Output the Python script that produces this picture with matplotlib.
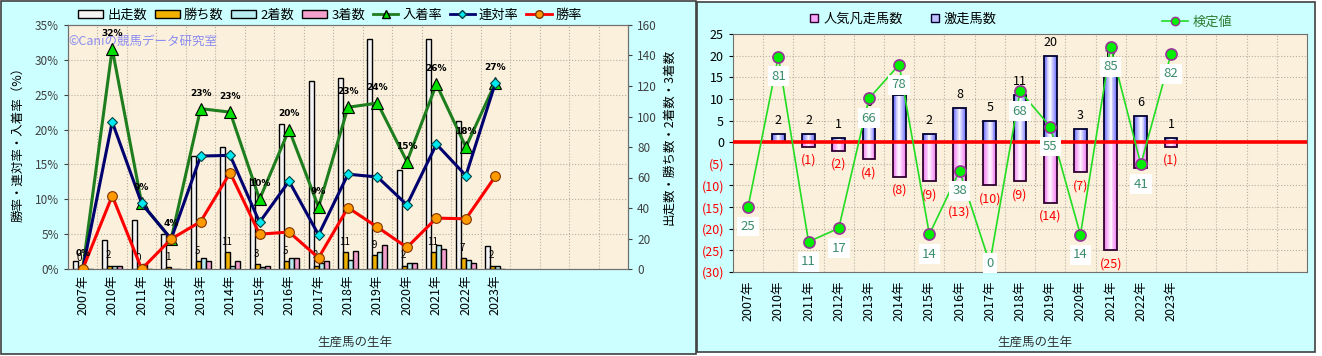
import matplotlib.pyplot as plt
import numpy as np
from matplotlib.patches import Rectangle, Patch
from matplotlib.lines import Line2D
import matplotlib.colors as mcolors

plt.rcParams['font.family'] = ['Noto Sans CJK JP', 'DejaVu Sans']

years = ['2007年', '2010年', '2011年', '2012年', '2013年', '2014年', '2015年', '2016年',
         '2017年', '2018年', '2019年', '2020年', '2021年', '2022年', '2023年']

# left chart: counts
runs = [5, 19, 32, 23, 74, 80, 60, 95, 123, 125, 151, 65, 151, 97, 15]
wins = [0, 2, 0, 1, 5, 11, 3, 5, 2, 11, 9, 2, 11, 7, 2]
seconds = [0, 2, 3, 0, 7, 2, 1, 7, 4, 6, 11, 4, 16, 6, 2]
thirds = [0, 2, 0, 0, 5, 5, 2, 7, 5, 12, 16, 4, 13, 4, 0]
# left chart: rates (%)
place_rate = [0, 31.6, 9.4, 4.3, 23.0, 22.5, 10.0, 20.0, 8.9, 23.2, 23.8, 15.4, 26.5, 17.5, 26.7]
quinella_rate = [0, 21.1, 9.4, 4.3, 16.2, 16.3, 6.7, 12.6, 4.9, 13.6, 13.2, 9.2, 17.9, 13.4, 26.7]
win_rate = [0, 10.5, 0, 4.3, 6.8, 13.8, 5.0, 5.3, 1.6, 8.8, 6.0, 3.1, 7.3, 7.2, 13.3]
place_labels = ['0%', '32%', '9%', '4%', '23%', '23%', '10%', '20%', '9%', '23%',
                '24%', '15%', '26%', '18%', '27%']

# right chart
gekiso = [0, 2, 2, 1, 6, 11, 2, 8, 5, 11, 20, 3, 17, 6, 1]
bonso = [0, 0, 1, 2, 4, 8, 9, 13, 10, 9, 14, 7, 25, 6, 1]
kentei_y = [-14.9, 19.8, -23.0, -19.9, 10.1, 17.9, -21.3, -6.6, -28.0, 11.8, 3.6, -21.4, 22.0, -5.1, 20.4]
kentei_lab = [25, 81, 11, 17, 66, 78, 14, 38, 0, 68, 55, 14, 85, 41, 82]

W, H = 1322, 356
n_slots = 19
x = np.arange(len(years))


def box(x0, y0, x1, y1):
    return [x0 / W, 1 - y1 / H, (x1 - x0) / W, (y1 - y0) / H]


def mix(c1, c2, t):
    a = np.array(mcolors.to_rgb(c1))
    b = np.array(mcolors.to_rgb(c2))
    return tuple(a + (b - a) * t)


def grad_bar(ax, xi, h, w, dark, light, edge):
    steps = 7
    for k in range(steps):
        ax.bar(xi, h, w * (1 - k / steps), color=mix(dark, light, k / (steps - 1)), lw=0, zorder=2)
    ax.bar(xi, h, w, fill=False, edgecolor=edge, lw=1.3, zorder=3)


fig = plt.figure(figsize=(W / 100, H / 100), dpi=100)
fig.patch.set_facecolor('white')
fig.add_artist(Rectangle((1 / W, 1 - 354 / H), 695 / W, 353 / H, transform=fig.transFigure,
                         facecolor='#CCFFFF', edgecolor='#404040', lw=1.2, zorder=0))
fig.add_artist(Rectangle((697 / W, 1 - 352 / H), 618 / W, 350 / H, transform=fig.transFigure,
                         facecolor='#CCFFFF', edgecolor='#404040', lw=1.2, zorder=0))

bg = '#FAF0DC'
gridc = '#B8B0A0'
tickc = '#404040'

# ---------------- left chart ----------------
ax = fig.add_axes(box(68, 25, 628, 269))
ax.set_facecolor(bg)
ax2 = ax.twinx()

bw = 0.17
ax.bar(x - 0.255, runs, bw, color='#F4F4F4', edgecolor='black', lw=1, zorder=2)
ax.bar(x - 0.085, wins, bw, color='#F0B000', edgecolor='black', lw=1, zorder=2)
ax.bar(x + 0.085, seconds, bw, color='#B8ECF0', edgecolor='black', lw=1, zorder=2)
ax.bar(x + 0.255, thirds, bw, color='#F4A0CC', edgecolor='black', lw=1, zorder=2)
for i in range(len(years)):
    ax.annotate(str(wins[i]), (x[i] - 0.12, wins[i]), xytext=(0, 4), textcoords='offset points',
                ha='center', va='bottom', fontsize=7, zorder=4)

ax.set_xlim(-0.5, n_slots - 0.5)
ax.set_ylim(0, 160)
ax.yaxis.tick_right()
ax.set_yticks(range(0, 161, 20))
for b in np.arange(0.5, n_slots - 0.5, 1):
    ax.axvline(b, color=gridc, lw=0.8, ls=':', zorder=1)
ax.hlines(range(5, 35, 5), -0.5, n_slots - 0.5, transform=ax2.transData,
          colors=gridc, lw=0.8, linestyles=':', zorder=1)

ax2.plot(x, place_rate, color='#1E7E1E', lw=2.2, marker='^', ms=8, mfc='#00E000', mec='black', mew=0.8, zorder=3)
ax2.plot(x, quinella_rate, color='#00006E', lw=2.2, marker='D', ms=5.5, mfc='#00E8F0', mec='#004040', mew=0.8, zorder=4)
ax2.plot(x, win_rate, color='#FF0000', lw=2.2, marker='o', ms=7, mfc='#FF9900', mec='#803300', mew=0.8, zorder=5)
for i in range(len(years)):
    ax2.annotate(place_labels[i], (x[i], place_rate[i]), xytext=(0, 8), textcoords='offset points',
                 ha='center', va='bottom', fontsize=6.5, fontweight='bold', family='DejaVu Sans', zorder=6)
ax2.set_ylim(0, 35)
ax2.set_yticks(range(0, 36, 5))
ax2.set_yticklabels([f'{v}%' for v in range(0, 36, 5)])
ax2.yaxis.tick_left()

ax.set_xticks(x)
ax.set_xticklabels(years, rotation=90, fontsize=9)
ax.tick_params(axis='x', length=0, pad=4)
ax.tick_params(axis='y', colors=tickc, labelsize=8.5, length=3)
ax2.tick_params(axis='y', colors=tickc, labelsize=8.5, length=3)
for a in (ax, ax2):
    for s in a.spines.values():
        s.set_color('#707070')

ax.text(0.0, 0.935, '©Caniの競馬データ研究室', transform=ax.transAxes, color='#8C8CF0',
        fontsize=9, ha='left', va='center', zorder=7)

fig.text(18 / W, 1 - 141 / H, '勝率・連対率・入着率（%）', rotation=90, ha='center', va='center', fontsize=9)
fig.text(669 / W, 1 - 137 / H, '出走数・勝ち数・2着数・3着数', rotation=90, ha='center', va='center', fontsize=9)
fig.text(355 / W, 1 - 342 / H, '生産馬の生年', ha='center', va='center', fontsize=9, color='#333333')

handles = [Patch(facecolor='#F4F4F4', edgecolor='black'),
           Patch(facecolor='#F0B000', edgecolor='black'),
           Patch(facecolor='#B8ECF0', edgecolor='black'),
           Patch(facecolor='#F4A0CC', edgecolor='black'),
           Line2D([], [], color='#1E7E1E', lw=2, marker='^', ms=6, mfc='#00E000', mec='black'),
           Line2D([], [], color='#00006E', lw=2, marker='D', ms=4.5, mfc='#00E8F0', mec='#004040'),
           Line2D([], [], color='#FF0000', lw=2, marker='o', ms=5.5, mfc='#FF9900', mec='#803300')]
fig.legend(handles, ['出走数', '勝ち数', '2着数', '3着数', '入着率', '連対率', '勝率'],
           loc='center', bbox_to_anchor=(330 / W, 1 - 15 / H), ncol=7, frameon=False, fontsize=9.5,
           handlelength=1.9, handleheight=0.55, columnspacing=0.6, handletextpad=0.3)

# ---------------- right chart ----------------
bx = fig.add_axes(box(733, 34, 1307, 272))
bx.set_facecolor(bg)
for i in range(len(years)):
    if gekiso[i] > 0:
        grad_bar(bx, x[i], gekiso[i], 0.42, '#7070FF', '#F4F4FF', '#000030')
    if bonso[i] > 0:
        grad_bar(bx, x[i], -bonso[i], 0.42, '#F080F0', '#FFF0FF', '#300030')
for i in range(len(years)):
    if gekiso[i] > 0:
        bx.annotate(str(gekiso[i]), (x[i], gekiso[i]), xytext=(0, 5), textcoords='offset points',
                    ha='center', va='bottom', fontsize=9, zorder=4)
    if bonso[i] > 0:
        bx.annotate(f'({bonso[i]})', (x[i], -bonso[i]), xytext=(0, -5), textcoords='offset points',
                    ha='center', va='top', fontsize=9, color='red', zorder=4)

bx.axhline(0, color='#FF0000', lw=2.6, zorder=5)
bx.plot(x, kentei_y, color='#22DD22', lw=1.2, marker='o', ms=8, mfc='#00EE00', mec='#993399',
        mew=1.2, zorder=6)
for i in range(len(years)):
    ly = max(kentei_y[i] - 4.6, -28.0)
    bx.text(x[i], ly, str(kentei_lab[i]), ha='center', va='center', fontsize=9.5, color='#3A8C6C',
            zorder=8, bbox=dict(facecolor='white', edgecolor='none', pad=2.5))

bx.set_xlim(-0.5, n_slots - 0.5)
bx.set_ylim(-30, 25)
yt = list(range(-30, 26, 5))
bx.set_yticks(yt)
bx.set_yticklabels([f'({-v})' if v < 0 else str(v) for v in yt])
for lab, v in zip(bx.get_yticklabels(), yt):
    lab.set_color('red' if v < 0 else 'black')
bx.tick_params(axis='y', labelsize=9, length=3)
bx.grid(axis='y', color=gridc, lw=0.8, ls=':', zorder=1)
for b in np.arange(0.5, n_slots - 0.5, 1):
    bx.axvline(b, color=gridc, lw=0.8, ls=':', zorder=1)
bx.set_axisbelow(True)
bx.set_xticks(x)
bx.set_xticklabels(years, rotation=90, fontsize=9)
bx.tick_params(axis='x', length=0, pad=6)
for s in bx.spines.values():
    s.set_color('#707070')

fig.text(1035 / W, 1 - 342 / H, '生産馬の生年', ha='center', va='center', fontsize=9, color='#333333')

h1 = [Line2D([], [], ls='', marker='s', ms=6, mfc='#F8A8F8', mec='#300030'),
      Line2D([], [], ls='', marker='s', ms=6, mfc='#C0C0FF', mec='#000030')]
fig.legend(h1, ['人気凡走馬数', '激走馬数'], loc='center', bbox_to_anchor=(903 / W, 1 - 19 / H),
           ncol=2, frameon=False, fontsize=9.5, handlelength=0.8, handletextpad=0.3, columnspacing=2.0)
h2 = [Line2D([], [], color='#22DD22', lw=1.2, marker='o', ms=6, mfc='#00EE00', mec='#993399')]
lg = fig.legend(h2, ['検定値'], loc='center', bbox_to_anchor=(1197 / W, 1 - 22 / H),
                frameon=False, fontsize=9.5, handlelength=2.0, handletextpad=0.3)
for t in lg.get_texts():
    t.set_color('#2E7D32')

fig.savefig('out.png', dpi=100)
